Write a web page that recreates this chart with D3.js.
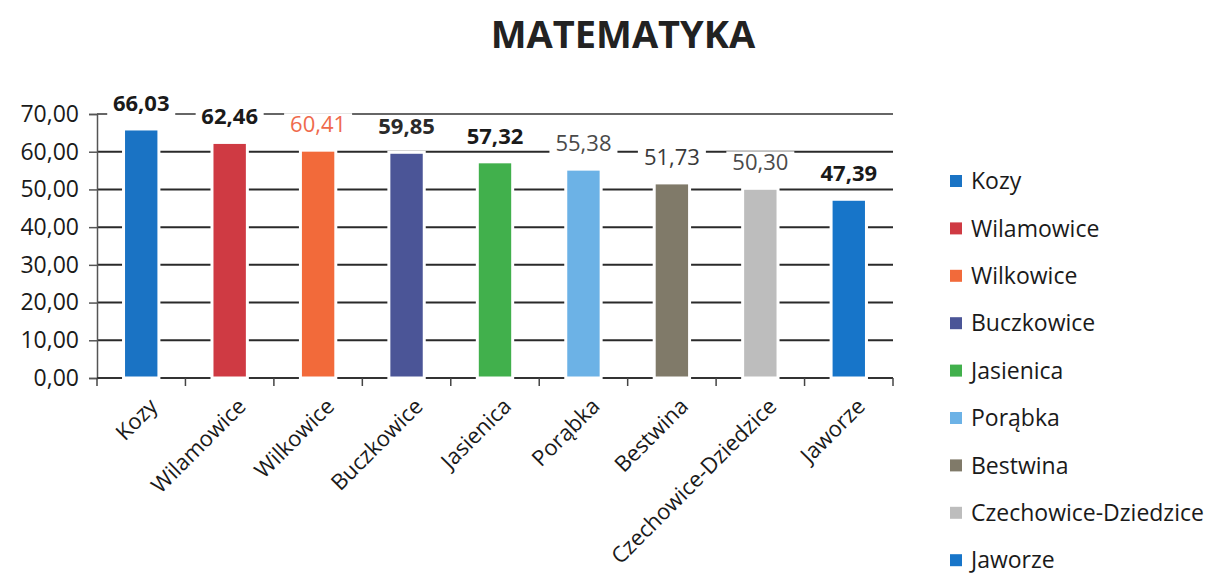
<!DOCTYPE html>
<html>
<head>
<meta charset="utf-8">
<script src="https://d3js.org/d3.v7.min.js"></script>
<style>
  body { margin: 0; background: #fff; }
  svg { display: block; font-family: "Open Sans", sans-serif; }
</style>
</head>
<body>
<div id="chart"></div>
<script>
// data
var gminy = ["Kozy", "Wilamowice", "Wilkowice", "Buczkowice", "Jasienica",
    "Porąbka", "Bestwina", "Czechowice-Dziedzice", "Jaworze"];
var wyniki = [66.03, 62.46, 60.41, 59.85, 57.32, 55.38, 51.73, 50.30, 47.39];
var kolory = ["#1a73c4", "#cf3a43", "#f26a3a", "#4b5597", "#41b04c",
    "#6cb2e6", "#807a69", "#bdbdbd", "#1775c9"];
var kolorEtykiet = ["#1a1a1a", "#1a1a1a", "#ef6a4c", "#2a2a2a", "#1a1a1a",
    "#4a4a4a", "#3a3a3a", "#4a4a4a", "#1a1a1a"];
var yTicks = [0, 10, 20, 30, 40, 50, 60, 70];

var W = 1210, H = 574;
var margin = {top: 114, left: 97, right: 317, bottom: 196};
var width = W - margin.left - margin.right;
var height = H - margin.top - margin.bottom;

var svg = d3.select("#chart").append("svg")
    .attr("width", W)
    .attr("height", H);

var pl = d3.formatLocale({decimal: ",", thousands: " ", grouping: [3], currency: ["", " zł"]});
var fmt = pl.format(".2f");

svg.append("text")
    .attr("x", 623)
    .attr("y", 48)
    .attr("text-anchor", "middle")
    .attr("font-size", 38)
    .attr("font-weight", "bold")
    .attr("fill", "#222")
    .text("MATEMATYKA");

var g = svg.append("g").attr("transform", "translate(" + margin.left + "," + margin.top + ")");

var x = d3.scaleBand()
    .domain(gminy)
    .range([0, width])
    .paddingInner(0.6)
    .paddingOuter(0.3);

var y = d3.scaleLinear()
    .domain([0, 70])
    .range([height, 0]);

// gridlines
g.append("g")
    .selectAll("line")
    .data(yTicks.slice(1))
    .enter().append("line")
    .attr("x1", 0)
    .attr("x2", width)
    .attr("y1", function(d) { return y(d); })
    .attr("y2", function(d) { return y(d); })
    .attr("stroke", function(d) { return d === 70 ? "#666" : "#2a2a2a"; })
    .attr("stroke-width", 2);

// y axis
var yAxis = g.append("g")
    .call(d3.axisLeft(y).tickValues(yTicks).tickSize(8).tickPadding(10).tickFormat(fmt));
yAxis.select(".domain").attr("stroke", "#555").attr("stroke-width", 1.5);
yAxis.selectAll(".tick line").attr("stroke", "#555").attr("stroke-width", 1.5);
yAxis.selectAll("text")
    .attr("font-size", 23)
    .attr("font-family", "Open Sans, sans-serif")
    .attr("fill", "#1a1a1a");

// x axis line + boundary ticks
g.append("line")
    .attr("x1", 0).attr("x2", width)
    .attr("y1", height).attr("y2", height)
    .attr("stroke", "#333").attr("stroke-width", 2);

g.append("g")
    .selectAll("line")
    .data(d3.range(gminy.length + 1))
    .enter().append("line")
    .attr("x1", function(i) { return i * x.step(); })
    .attr("x2", function(i) { return i * x.step(); })
    .attr("y1", height)
    .attr("y2", height + 8)
    .attr("stroke", "#444")
    .attr("stroke-width", 1.5);

// bars
g.append("g")
    .selectAll("rect")
    .data(wyniki)
    .enter().append("rect")
    .attr("x", function(d, i) { return x(gminy[i]); })
    .attr("y", function(d) { return y(d); })
    .attr("width", x.bandwidth())
    .attr("height", function(d) { return height - y(d); })
    .attr("fill", function(d, i) { return kolory[i]; })
    .attr("stroke", "#fff")
    .attr("stroke-width", 3);

// value labels with white boxes
var lab = g.append("g")
    .selectAll("g")
    .data(wyniki)
    .enter().append("g")
    .attr("transform", function(d, i) {
        return "translate(" + (x(gminy[i]) + x.bandwidth() / 2) + "," + (y(d) - 18) + ")";
    });

lab.append("rect")
    .attr("x", -34)
    .attr("y", -19)
    .attr("width", 68)
    .attr("height", 24)
    .attr("fill", "#fff");

lab.append("text")
    .attr("text-anchor", "middle")
    .attr("font-size", 22)
    .attr("font-weight", function(d, i) { return (i === 2 || i >= 5 && i <= 7) ? "normal" : "bold"; })
    .attr("fill", function(d, i) { return kolorEtykiet[i]; })
    .text(function(d) { return fmt(d); });

// category labels
g.append("g")
    .selectAll("text")
    .data(gminy)
    .enter().append("text")
    .attr("transform", function(d) {
        return "translate(" + (x(d) + x.bandwidth() / 2 + 6) + "," + (height + 18) + ") rotate(-45)";
    })
    .attr("text-anchor", "end")
    .attr("dy", "0.75em")
    .attr("font-size", 22)
    .attr("fill", "#1a1a1a")
    .text(function(d) { return d; });

// legend
var legend = svg.append("g")
    .selectAll("g")
    .data(gminy)
    .enter().append("g")
    .attr("transform", function(d, i) { return "translate(950," + (181 + i * 47.4) + ")"; });

legend.append("rect")
    .attr("x", 0)
    .attr("y", -6)
    .attr("width", 12)
    .attr("height", 12)
    .attr("fill", function(d, i) { return kolory[i]; });

legend.append("text")
    .attr("x", 21)
    .attr("dy", "0.36em")
    .attr("font-size", 23)
    .attr("fill", "#1a1a1a")
    .text(function(d) { return d; });
</script>
</body>
</html>
